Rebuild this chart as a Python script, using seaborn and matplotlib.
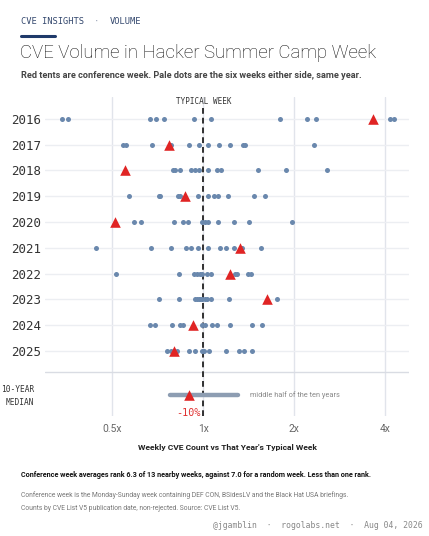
import numpy as np
import pandas as pd
import matplotlib
matplotlib.use("Agg")
import matplotlib.pyplot as plt
import seaborn as sns

# ---------------- data ----------------
years = [2016, 2017, 2018, 2019, 2020, 2021, 2022, 2023, 2024, 2025]

# conference week ratio vs that year's typical week
tents = [3.63, 0.768, 0.551, 0.868, 0.510, 1.322, 1.225, 1.628, 0.922, 0.798]

# six weeks either side, same year
dots_2016 = [0.340, 0.355, 0.666, 0.695, 0.741, 0.931, 1.063, 1.793, 2.208, 2.359, 4.145, 4.272]
dots_2017 = [0.541, 0.555, 0.675, 0.782, 0.894, 0.965, 1.034, 1.130, 1.225, 1.356, 1.377, 2.323]
dots_2018 = [0.792, 0.808, 0.835, 0.913, 0.936, 0.967, 1.034, 1.113, 1.141, 1.513, 1.876, 2.572]
dots_2019 = [0.569, 0.711, 0.719, 0.822, 0.837, 0.963, 1.039, 1.087, 1.115, 1.207, 1.471, 1.600]
dots_2020 = [0.590, 0.622, 0.798, 0.857, 0.890, 0.990, 1.010, 1.036, 1.115, 1.260, 1.413, 1.970]
dots_2021 = [0.440, 0.669, 0.784, 0.876, 0.908, 0.963, 1.039, 1.138, 1.185, 1.266, 1.343, 1.551]
dots_2022 = [0.513, 0.827, 0.934, 0.951, 0.975, 0.992, 1.026, 1.061, 1.273, 1.296, 1.406, 1.435]
dots_2023 = [0.715, 0.833, 0.939, 0.955, 0.968, 0.975, 0.992, 1.011, 1.031, 1.058, 1.216, 1.757]
dots_2024 = [0.666, 0.690, 0.786, 0.835, 0.854, 0.987, 1.013, 1.066, 1.113, 1.222, 1.445, 1.559]
dots_2025 = [0.757, 0.782, 0.817, 0.897, 0.936, 0.990, 1.008, 1.042, 1.191, 1.316, 1.361, 1.452]
neighbor_dots = [dots_2016, dots_2017, dots_2018, dots_2019, dots_2020,
                 dots_2021, dots_2022, dots_2023, dots_2024, dots_2025]

tick_values = [0.5, 1, 2, 4]
tick_labels = ["0.5x", "1x", "2x", "4x"]

# ---------------- frames ----------------
dot_df = pd.DataFrame(
    [(i, v) for i, vals in enumerate(neighbor_dots) for v in vals],
    columns=["row", "ratio"])
tent_df = pd.DataFrame({"row": range(len(years)), "ratio": tents})

median_row = 10.7
tent_median = float(np.median(tents))
q1, q3 = np.percentile(tents, [25, 75])
med_df = pd.DataFrame({"row": [median_row], "ratio": [tent_median]})

# ---------------- figure ----------------
sns.set_style("white")
plt.rcParams["font.family"] = ["Roboto", "DejaVu Sans"]

W, H = 429, 536
fig = plt.figure(figsize=(W / 100, H / 100), dpi=100)
fx = lambda x: x / W
fy = lambda y: 1 - y / H

ax = fig.add_axes([fx(45), fy(416), (409 - 45) / W, (416 - 97) / H])
ax.set_xscale("log", base=2)
ax.set_xlim(0.299, 4.79)
ax.set_ylim(11.52, -0.85)

# grid
for v in tick_values:
    ax.axvline(v, color="#e1e4eb", lw=1, zorder=0)
for i in range(len(years)):
    ax.axhline(i, color="#eceef2", lw=1, zorder=0)
ax.axhline(9.83, color="#d9dce3", lw=1, zorder=0)

ax.vlines(1, -0.42, 11.52, colors="#222222", lw=1.3,
          linestyles=(0, (3.2, 2.2)), zorder=2)
ax.text(1, -0.68, "TYPICAL WEEK", ha="center", va="center",
        fontsize=5.5, family="DejaVu Sans Mono", color="#333333")

sns.scatterplot(data=dot_df, x="ratio", y="row", ax=ax, color="#6a88ad",
                s=13, linewidth=0, zorder=3, legend=False)
sns.scatterplot(data=tent_df, x="ratio", y="row", ax=ax, color="#e02424",
                marker="^", s=58, linewidth=0, zorder=4, legend=False)

# median row
ax.plot([q1, q3], [median_row, median_row], color="#8d9db2", lw=3.2,
        solid_capstyle="round", zorder=3)
sns.scatterplot(data=med_df, x="ratio", y="row", ax=ax, color="#e02424",
                marker="^", s=58, linewidth=0, zorder=4, legend=False)
ax.text(q3 * 1.1, median_row, "middle half of the ten years", ha="left",
        va="center", fontsize=5.3, color="#888888")
pct = int((tent_median - 1) * 100)
ax.text(tent_median, 11.4, f"{pct}%", ha="center", va="center",
        fontsize=7.3, family="DejaVu Sans Mono", color="#e03030")

# axes styling
for s in ax.spines.values():
    s.set_visible(False)
ax.set_yticks(range(len(years)))
ax.set_yticklabels([str(y) for y in years], family="DejaVu Sans Mono",
                   fontsize=9, color="#333333")
ax.set_xticks(tick_values)
ax.set_xticklabels(tick_labels, fontsize=7.4, color="#666666")
ax.xaxis.set_minor_locator(matplotlib.ticker.NullLocator())
ax.tick_params(axis="both", length=0)
ax.tick_params(axis="y", pad=3)
ax.tick_params(axis="x", pad=6)
ax.set_ylabel("")
ax.set_xlabel("Weekly CVE Count vs That Year's Typical Week", fontsize=6.1,
              fontweight="bold", color="#222222", labelpad=7)

fig.text(fx(34), fy(396), "10-YEAR\nMEDIAN", ha="right", va="center",
         fontsize=5.7, family="DejaVu Sans Mono", color="#333333",
         linespacing=1.6, multialignment="right")

# header
hdr = dict(va="center", fontsize=6.3, family="DejaVu Sans Mono", color="#34486e")
fig.text(fx(21), fy(22), "CVE INSIGHTS", ha="left", **hdr)
fig.text(fx(96.5), fy(22), "\u00b7", ha="center", **{**hdr, "color": "#9aa4b8"})
fig.text(fx(110), fy(22), "VOLUME", ha="left", **hdr)
fig.add_artist(matplotlib.lines.Line2D([fx(21), fx(55)], [fy(36), fy(36)],
                                       color="#1f3a6a", lw=2.2))
fig.text(fx(20), fy(52.5), "CVE Volume in Hacker Summer Camp Week", ha="left",
         va="center", fontsize=13.4, fontweight="light", color="#111111")
fig.text(fx(21), fy(75),
         "Red tents are conference week. Pale dots are the six weeks either side, same year.",
         ha="left", va="center", fontsize=6.55, fontweight="bold", color="#444444")

# footer
fig.text(fx(21), fy(475),
         "Conference week averages rank 6.3 of 13 nearby weeks, against 7.0 for a random week. Less than one rank.",
         ha="left", va="center", fontsize=5.2, fontweight="bold", color="#111111")
fig.text(fx(21), fy(495.5),
         "Conference week is the Monday-Sunday week containing DEF CON, BSidesLV and the Black Hat USA briefings.",
         ha="left", va="center", fontsize=4.85, color="#777777")
fig.text(fx(21), fy(508),
         "Counts by CVE List V5 publication date, non-rejected. Source: CVE List V5.",
         ha="left", va="center", fontsize=4.85, color="#777777")
fig.text(fx(423), fy(525.5),
         "@jgamblin  \u00b7  rogolabs.net  \u00b7  Aug 04, 2026",
         ha="right", va="center", fontsize=5.85, family="DejaVu Sans Mono",
         color="#888888")

fig.savefig("out.png", dpi=100, facecolor="white")
